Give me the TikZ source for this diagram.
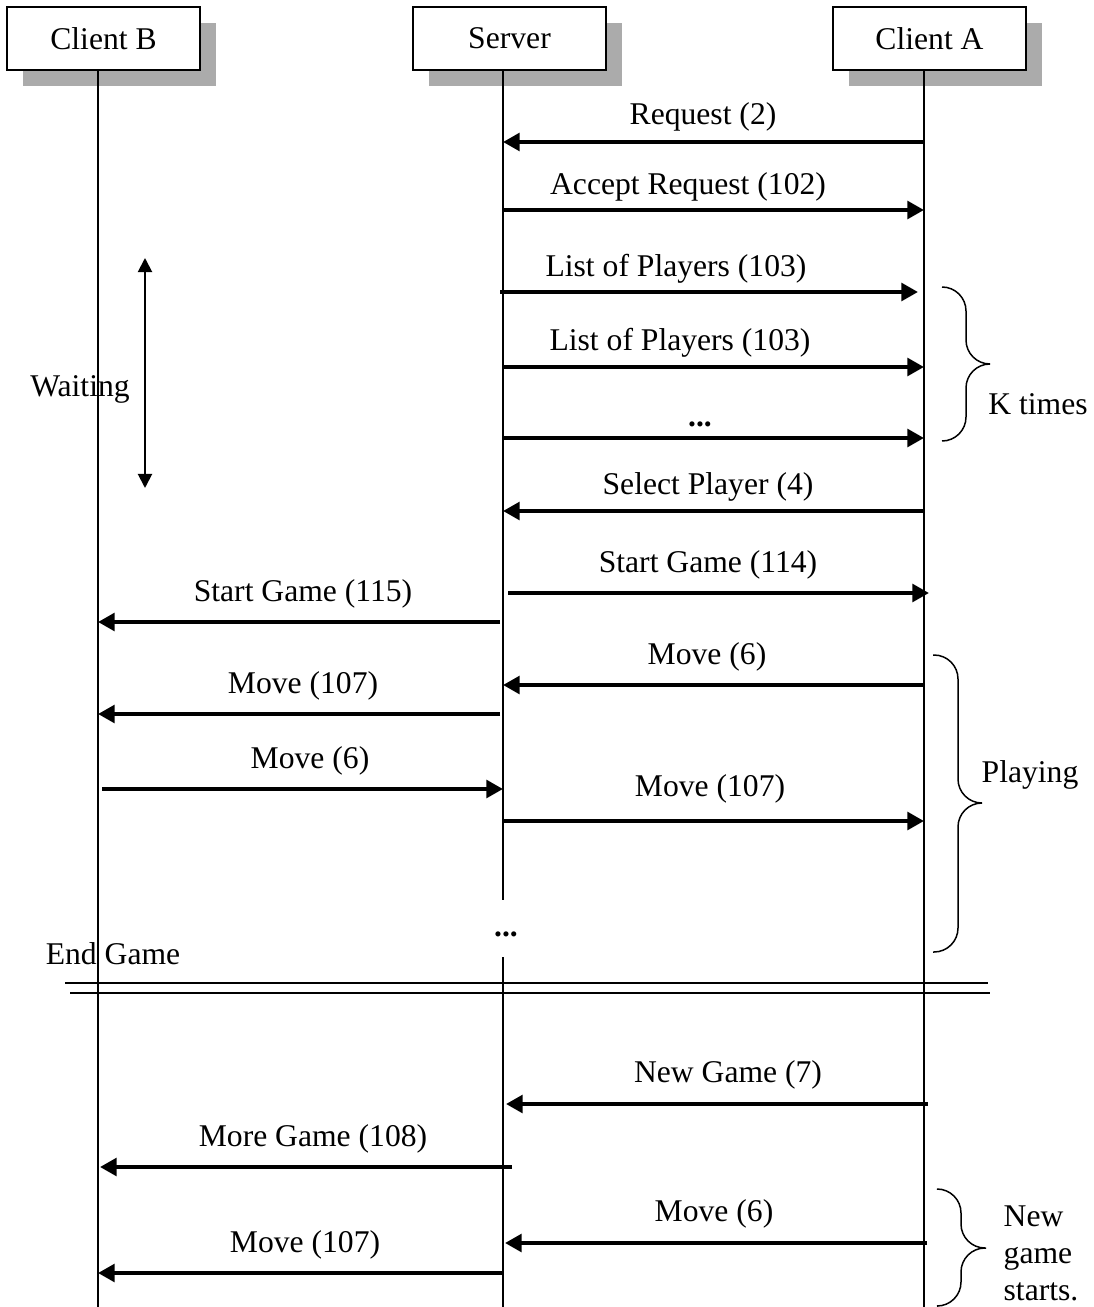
\documentclass[tikz,border=0pt]{standalone}
\usepackage{fontspec}
\setmainfont{Liberation Serif}
\usetikzlibrary{positioning,arrows.meta,shadows}

\begin{document}
\begin{tikzpicture}[x=0.02cm, y=-0.02cm,
  font=\fontsize{18}{21}\selectfont,
  actor/.style={draw, line width=1.1pt, fill=white,
                minimum width=3.86cm, minimum height=1.26cm,
                drop shadow={shadow xshift=0.32cm, shadow yshift=-0.32cm,
                             opacity=1, fill=black!33}},
  life/.style={line width=0.85pt},
  arr/.style={-{Triangle[length=9.5pt, width=10pt]}, line width=2.3pt},
  warr/.style={{Triangle[length=8pt, width=8pt]}-{Triangle[length=8pt, width=8pt]},
               line width=1.1pt},
  lbl/.style={inner sep=1pt, yshift=-0.06cm},
  brc/.style={line width=0.85pt, rounded corners=0.48cm}
]
  \useasboundingbox (0,0) rectangle (1094,1307);

  \node[actor] (clientb) at (103.5,38.5) {Client B};
  \node[actor] (server)  at (509.5,38.5) {Server};
  \node[actor] (clienta) at (929.5,38.5) {Client A};

  \coordinate (lb) at (98,70);
  \coordinate (ls) at (503,70);
  \coordinate (la) at (924,70);
  \coordinate (bot) at (0,1307);
  \coordinate (gaptop) at (0,900);
  \coordinate (gapbot) at (0,957);

  \draw[life] (lb) -- (lb |- bot);
  \draw[life] (ls) -- (ls |- gaptop);
  \draw[life] (ls |- gapbot) -- (ls |- bot);
  \draw[life] (la) -- (la |- bot);

  \coordinate (m1) at (0,142);
  \coordinate (m2) at (0,210);
  \coordinate (m3) at (0,292);
  \coordinate (m4) at (0,367);
  \coordinate (m5) at (0,438);
  \coordinate (m6) at (0,511);
  \coordinate (m7) at (0,593);
  \coordinate (m8) at (0,622);
  \coordinate (m9) at (0,685);
  \coordinate (m10) at (0,714);
  \coordinate (m11) at (0,789);
  \coordinate (m12) at (0,821);
  \coordinate (m13) at (0,1104);
  \coordinate (m14) at (0,1167);
  \coordinate (m15) at (0,1243);
  \coordinate (m16) at (0,1273);

  \node[lbl] (req)    at (703,114)  {Request (2)};
  \node[lbl] (accept) at (688,184)  {Accept Request (102)};
  \node[lbl] (list1)  at (676,266)  {List of Players (103)};
  \node[lbl] (list2)  at (680,340)  {List of Players (103)};
  \node[lbl] (listk)  at (700,421)  {\textbf{...}};
  \node[lbl] (select) at (708,484)  {Select Player (4)};
  \node[lbl] (starta) at (708,562)  {Start Game (114)};
  \node[lbl] (startb) at (303,591)  {Start Game (115)};
  \node[lbl] (movea1) at (707,654)  {Move (6)};
  \node[lbl] (moveb1) at (303,683)  {Move (107)};
  \node[lbl] (moveb2) at (310,758)  {Move (6)};
  \node[lbl] (movea2) at (710,786)  {Move (107)};
  \node[lbl] (newg)   at (728,1072) {New Game (7)};
  \node[lbl] (moreg)  at (313,1136) {More Game (108)};
  \node[lbl] (movea3) at (714,1211) {Move (6)};
  \node[lbl] (moveb3) at (305,1242) {Move (107)};

  \draw[arr] (la |- m1) -- (ls |- m1);
  \draw[arr] (ls |- m2) -- (la |- m2);
  \draw[arr] ([xshift=-0.06cm]ls |- m3) -- ([xshift=-0.12cm]la |- m3);
  \draw[arr] (ls |- m4) -- (la |- m4);
  \draw[arr] (ls |- m5) -- (la |- m5);
  \draw[arr] (la |- m6) -- (ls |- m6);
  \draw[arr] ([xshift=0.1cm]ls |- m7) -- ([xshift=0.1cm]la |- m7);
  \draw[arr] ([xshift=-0.06cm]ls |- m8) -- (lb |- m8);
  \draw[arr] (la |- m9) -- (ls |- m9);
  \draw[arr] ([xshift=-0.06cm]ls |- m10) -- (lb |- m10);
  \draw[arr] ([xshift=0.08cm]lb |- m11) -- (ls |- m11);
  \draw[arr] (ls |- m12) -- (la |- m12);
  \draw[arr] ([xshift=0.08cm]la |- m13) -- ([xshift=0.06cm]ls |- m13);
  \draw[arr] ([xshift=0.18cm]ls |- m14) -- ([xshift=0.04cm]lb |- m14);
  \draw[arr] ([xshift=0.06cm]la |- m15) -- ([xshift=0.04cm]ls |- m15);
  \draw[arr] (ls |- m16) -- (lb |- m16);

  \coordinate (wtop) at (145,258);
  \coordinate (wbot) at (145,488);
  \draw[warr] (wtop) -- (wbot);
  \node (waiting) at (80,389) {Waiting};

  \node (sdots) at (506,934) {\textbf{...}};
  \node (endgame) at (113,954) {End Game};

  \draw[line width=1.1pt] (65,983) -- (988,983);
  \draw[line width=1.1pt] (70,993) -- (990,993);

  \coordinate (k1) at (942,287);
  \coordinate (kt) at (990,364);
  \draw[brc] (k1) -- ++(24,0) -- ++(0,77) -- ++(24,0)
             (kt) -- ++(-24,0) -- ++(0,77) -- ++(-24,0);
  \node (ktimes) at (1038,404) {K times};

  \coordinate (p1) at (933,655);
  \coordinate (pt) at (982,803);
  \draw[brc] (p1) -- ++(25,0) -- ++(0,148) -- ++(24,0)
             (pt) -- ++(-24,0) -- ++(0,149) -- ++(-25,0);
  \node (playing) at (1030,775) {Playing};

  \coordinate (n1) at (938,1189);
  \coordinate (nt) at (986,1248);
  \draw[brc] (n1) -- ++(23,0) -- ++(0,59) -- ++(25,0)
             (nt) -- ++(-25,0) -- ++(0,58) -- ++(-23,0);
  \node[align=left] (newstart) at (1041,1253) {New\\game\\starts.};
\end{tikzpicture}
\end{document}
